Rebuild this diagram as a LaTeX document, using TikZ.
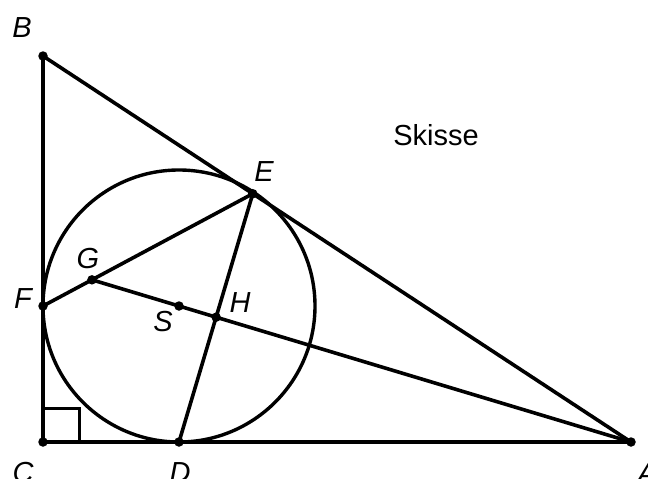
\documentclass[tikz,border=0pt]{standalone}
\usepackage{fontspec}
\setmainfont{Liberation Sans}
\usetikzlibrary{calc}
\tikzset{
  geo/.style={line width=3.6pt, line join=round},
  dotpt/.style={circle, fill=black, inner sep=0pt, minimum size=9.5pt},
  lab/.style={font=\fontsize{29}{34}\selectfont\itshape, inner sep=0pt, anchor=center},
  title/.style={font=\fontsize{29}{34}\selectfont, inner sep=0pt, anchor=center}
}
\begin{document}
\begin{tikzpicture}[x=1pt,y=-1pt]
\useasboundingbox (0,0) rectangle (648,479);
\coordinate (C) at (43,442);
\coordinate (B) at (43,56);
\coordinate (A) at (631,442);
\coordinate (S) at (179,306);
\coordinate (D) at (179,442);
\coordinate (F) at (43,306);
\coordinate (E) at ($(A)!(S)!(B)$);
\coordinate (G) at (intersection of F--E and S--A);
\coordinate (H) at (intersection of D--E and S--A);
% triangle
\draw[geo] (C) -- (B) -- (A) -- cycle;
% right angle
\draw[line width=3pt] (C) rectangle ++(36,-34);
% incircle
\draw[line width=3.4pt] (S) circle[radius=136pt];
% inner segments
\draw[geo] (F) -- (G) -- (E);
\draw[geo] (D) -- (E);
\draw[geo] (G) -- (A);
% dots
\foreach \p in {A,B,C,D,E,F,G,H,S}{\node[dotpt] (d\p) at (\p) {};}
% labels
\node[lab] (lB) at (22,28) {B};
\node[lab] (lC) at (23,473) {C};
\node[lab] (lD) at (180,473) {D};
\node[lab] (lA) at (647,474) {A};
\node[lab] (lE) at (264,172) {E};
\node[lab] (lF) at (23,299) {F};
\node[lab] (lG) at (88,259) {G};
\node[lab] (lS) at (163,322) {S};
\node[lab] (lH) at (240,303) {H};
\node[title] (sk) at (436,135) {Skisse};
\end{tikzpicture}
\end{document}
